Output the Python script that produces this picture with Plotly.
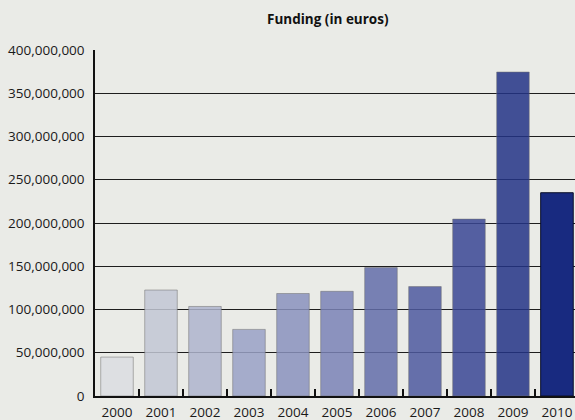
import plotly.graph_objects as go

years = ["2000", "2001", "2002", "2003", "2004", "2005", "2006", "2007", "2008", "2009", "2010"]
funding = [45e6, 122.5e6, 103.5e6, 77e6, 118.5e6, 121e6, 148.5e6, 126.5e6, 204.5e6, 374.5e6, 235e6]
bar_colors = [
    "rgba(218,221,225,0.85)", "rgba(194,199,212,0.85)", "rgba(174,180,204,0.85)",
    "rgba(153,161,197,0.85)", "rgba(137,146,189,0.85)", "rgba(122,131,182,0.85)",
    "rgba(99,109,169,0.85)", "rgba(78,89,159,0.85)", "rgba(57,71,148,0.85)",
    "rgba(35,52,134,0.85)", "rgb(24,42,128)",
]
line_colors = ["rgba(110,110,110,0.5)"] * 10 + ["rgb(10,15,40)"]
y_ticks = [0, 50e6, 100e6, 150e6, 200e6, 250e6, 300e6, 350e6, 400e6]

bg = "#eaebe7"
fig = go.Figure(go.Bar(
    x=years, y=funding,
    marker=dict(color=bar_colors, line=dict(color=line_colors, width=1)),
))
fig.update_layout(
    width=575, height=420,
    paper_bgcolor=bg, plot_bgcolor=bg,
    margin=dict(l=95, r=0, t=50, b=24, autoexpand=False),
    bargap=0.26,
    showlegend=False,
    font=dict(family="Open Sans", size=13.5, color="#1a1a1a"),
    title=dict(text="<b>Funding (in euros)</b>", x=0.57, xanchor="center",
               y=0.955, yanchor="middle", font=dict(size=13.5, color="#111")),
)
fig.update_xaxes(
    range=[-0.5, 10.41], showline=True, linecolor="#111", linewidth=1.5,
    ticks="inside", tickson="boundaries", ticklen=7, tickcolor="#111", tickwidth=1.5,
    showgrid=False, tickfont=dict(size=13.5), ticklabelstandoff=3, fixedrange=True,
)
fig.update_yaxes(
    range=[0, 400e6], tickvals=y_ticks, tickformat=",",
    showline=True, linecolor="#111", linewidth=1.5,
    showgrid=True, gridcolor="#1e1e1e", gridwidth=1, zeroline=False,
    ticks="", ticklabelstandoff=6, tickfont=dict(size=13.5),
)
fig.write_html("out.html", config={"displayModeBar": False},
               post_script="document.body.style.margin='0';document.body.style.overflow='hidden';")
